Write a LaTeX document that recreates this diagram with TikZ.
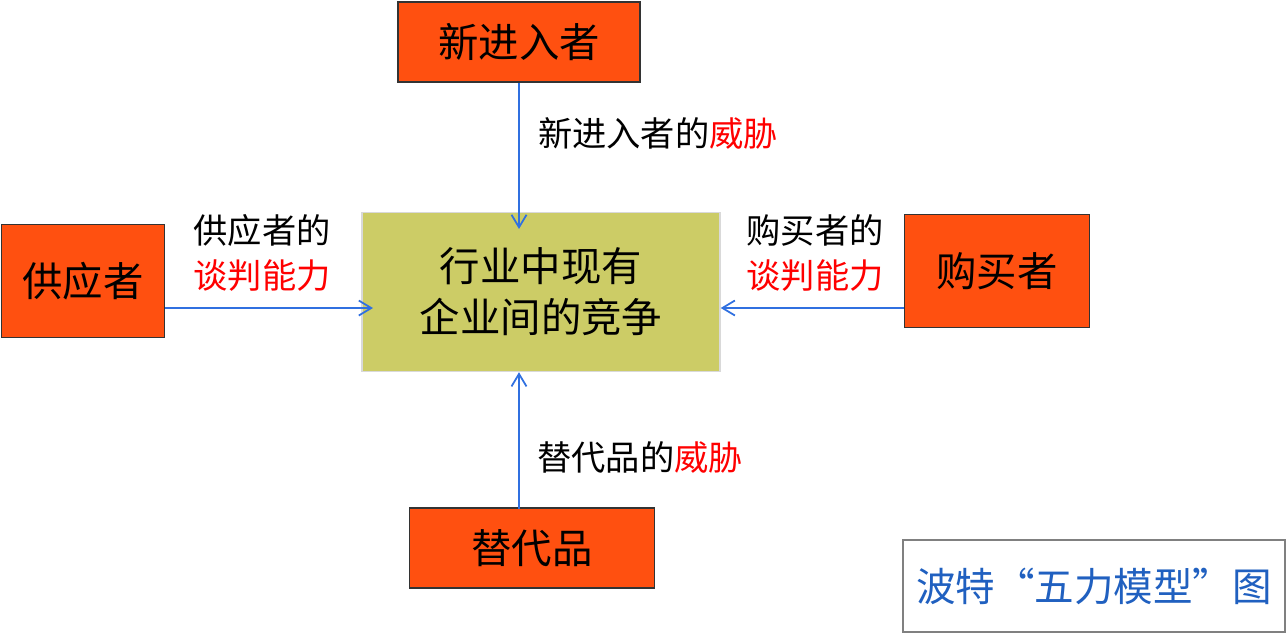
\documentclass[tikz,border=0pt]{standalone}
\usepackage{fontspec}
\setmainfont{Noto Sans CJK SC}
\usetikzlibrary{positioning}
\usetikzlibrary{arrows.meta}
\definecolor{forceorange}{HTML}{FF5010}
\definecolor{coreyellow}{HTML}{CCCC66}
\definecolor{arrowblue}{HTML}{3070E0}
\definecolor{titleblue}{HTML}{2060C0}
\tikzstyle{forcenode} = [draw=black!80, fill=forceorange, line width=0.8pt, font=\fontsize{23}{27}\selectfont]
\tikzstyle{corenode} = [draw=black!15, fill=coreyellow, line width=0.8pt, align=center, font=\fontsize{23}{29}\selectfont]
\tikzstyle{forcelabel} = [align=center, font=\fontsize{19.5}{26}\selectfont]
\tikzstyle{push} = [-{Straight Barb[length=2.5mm,width=3mm]}, arrowblue, line width=1pt]

\begin{document}
\begin{tikzpicture}[x=0.2mm, y=-0.2mm]
  \useasboundingbox (0,0) rectangle (1288,633);

  \node[corenode, minimum width=71.6mm, minimum height=31.8mm] (core) at (541,292) {行业中现有\\企业间的竞争};

  \node[forcenode, minimum width=48.4mm, minimum height=16mm] (entrant) at (519,42) {新进入者};
  \node[forcenode, minimum width=32.6mm, minimum height=22.6mm] (supplier) at (83,281) {供应者};
  \node[forcenode, minimum width=37mm, minimum height=22.6mm] (buyer) at (997,271) {购买者};
  \node[forcenode, minimum width=49mm, minimum height=16mm] (substitute) at (532,548) {替代品};

  \node[draw=black!50, fill=white, line width=0.8pt, minimum width=76.4mm, minimum height=18.4mm, text=titleblue, font=\fontsize{22.5}{26}\selectfont] (title) at (1094,586) {波特“五力模型”图};

  \coordinate (entrantend) at (519,229);
  \coordinate (supplierend) at (373,308);
  \coordinate (substitutestart) at (519,509);
  \draw[push] (entrant.south -| entrantend) -- (entrantend);
  \draw[push] (supplier.east |- supplierend) -- (supplierend);
  \draw[push] (buyer.west |- supplierend) -- (core.east |- supplierend);
  \draw[push] (substitutestart) -- (core.south -| substitutestart);

  \node[forcelabel] (entrantlabel) at (658,133) {新进入者的\textcolor{red}{威胁}};
  \node[forcelabel] (supplierlabel) at (262,253) {供应者的\\\textcolor{red}{谈判能力}};
  \node[forcelabel] (buyerlabel) at (815,253) {购买者的\\\textcolor{red}{谈判能力}};
  \node[forcelabel] (substitutelabel) at (640,457) {替代品的\textcolor{red}{威胁}};
\end{tikzpicture}
\end{document}
